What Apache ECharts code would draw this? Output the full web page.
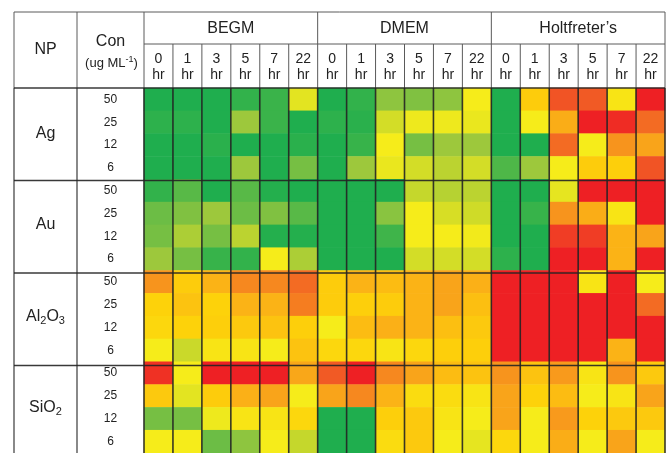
<!DOCTYPE html>
<html>
<head>
<meta charset="utf-8">
<script src="https://cdn.jsdelivr.net/npm/echarts@6/dist/echarts.min.js"></script>
<style>
html, body { margin: 0; padding: 0; background: #fff; }
#chart { width: 668px; height: 453px; }
</style>
</head>
<body>
<div id="chart"></div>
<script>
// ===== 表头 =====
const media = ['BEGM', 'DMEM', 'Holtfreter’s']
const hours = ['0', '1', '3', '5', '7', '22']
const particles = ['Ag', 'Au', 'Al2O3', 'SiO2']
const concs = ['50', '25', '12', '6']

// ===== 毒性评分 0(绿) → 50(黄) → 100(红)，每行：BEGM | DMEM | Holtfreter's =====
const agScores = [
  [0, 0, 0, 7, 10, 45,   0, 7, 27, 24, 27, 50,   0, 62, 91, 90, 53, 100],
  [5, 5, 0, 30, 10, 0,   5, 4, 41, 48, 48, 47,   0, 50, 72, 100, 98, 87],
  [0, 0, 4, 0, 0, 4,     0, 9, 50, 22, 30, 30,   0, 0, 87, 50, 80, 75],
  [0, 0, 0, 30, 0, 22,   0, 30, 47, 41, 36, 41,  14, 30, 50, 62, 61, 91]
]
const auScores = [
  [7, 16, 0, 16, 2, 0,      0, 0, 0, 38, 35, 36,   0, 0, 46, 100, 100, 100],
  [20, 24, 30, 20, 24, 16,  0, 0, 26, 50, 42, 40,  0, 9, 80, 72, 53, 100],
  [22, 33, 22, 36, 2, 2,    0, 0, 11, 50, 50, 49,  0, 0, 95, 95, 70, 75],
  [30, 22, 9, 7, 50, 33,    0, 0, 0, 41, 41, 41,   5, 0, 100, 100, 70, 100]
]
const alScores = [
  [80, 62, 70, 82, 82, 87,  62, 70, 67, 70, 75, 71,  100, 100, 100, 53, 100, 50],
  [60, 65, 60, 70, 70, 84,  62, 61, 62, 70, 75, 66,  100, 100, 100, 100, 100, 87],
  [58, 60, 61, 63, 65, 61,  50, 67, 71, 70, 66, 63,  100, 100, 100, 100, 100, 100],
  [50, 39, 53, 53, 50, 65,  58, 58, 53, 58, 61, 61,  100, 100, 100, 100, 70, 100]
]
const siScores = [
  [97, 50, 100, 100, 100, 74,  90, 100, 82, 75, 67, 65,  80, 65, 78, 53, 80, 63],
  [63, 45, 62, 71, 75, 50,     75, 82, 70, 56, 56, 53,   75, 60, 67, 50, 53, 75],
  [22, 22, 48, 53, 53, 58,     0, 0, 61, 63, 53, 50,     75, 50, 78, 60, 63, 63],
  [50, 50, 20, 27, 50, 38,     0, 0, 56, 63, 50, 46,     58, 50, 72, 50, 75, 50]
]
const scoreColors = ['#1fae4e', '#3ab34a', '#6cbd45', '#9dc83c', '#cfdb28', '#f6ec1a',
  '#fdd20a', '#fbb316', '#f7941d', '#f15a25', '#ee2024']

const allScores = [agScores, auScores, alScores, siScores]

// 类目 key
const colKeys = []
media.forEach(m => hours.forEach(h => colKeys.push(m + '|' + h)))
const rowKeys = []
particles.forEach(p => concs.forEach(c => rowKeys.push(p + '|' + c)))

const cells = []
allScores.forEach((rows, g) => {
  rows.forEach((row, r) => {
    row.forEach((v, c) => cells.push([c, g * concs.length + r, v]))
  })
})

// ===== 表格布局 =====
const L = 14, NPX = 77, GL = 144, GR = 665, TOP = 12, MID = 44, GT = 88
const cellH = 23.125
const GH = cellH * rowKeys.length
const cw = (GR - GL) / colKeys.length

const headC = '#5a5a5a'
const bodyC = 'rgba(35,35,35,0.9)'
const lines = []
const addLine = (x1, y1, x2, y2, stroke, w) => lines.push({
  type: 'line', z: 100, silent: true,
  shape: { x1, y1, x2, y2 }, style: { stroke, lineWidth: w }
})
// 表头线
addLine(L, TOP, GR, TOP, headC, 1)
addLine(GL, MID, GR, MID, headC, 1)
;[L, NPX, GL, GR].forEach(x => addLine(x, TOP, x, GT, headC, 1))
for (let c = 1; c < colKeys.length; c++) {
  const x = GL + c * cw
  addLine(x, c % hours.length === 0 ? TOP : MID, x, GT, headC, 1)
}
// 数据区线
addLine(L, GT, GR, GT, bodyC, 1.6)
;[L, NPX].forEach(x => addLine(x, GT, x, GT + GH, bodyC, 1.2))
for (let c = 0; c <= colKeys.length; c++) {
  const x = GL + c * cw
  addLine(x, GT, x, GT + GH, bodyC, 1.6)
}
for (let g = 1; g < particles.length; g++) {
  const y = GT + g * concs.length * cellH
  addLine(L, y, GR, y, bodyC, 1.6)
}

const font = '"Liberation Sans", Arial, sans-serif'
const texts = [
  { type: 'text', z: 100, style: { x: (L + NPX) / 2, y: 50, text: 'NP', font: '16px ' + font, fill: '#222', align: 'center', verticalAlign: 'middle' } },
  { type: 'text', z: 100, style: { x: (NPX + GL) / 2, y: 42, text: 'Con', font: '16px ' + font, fill: '#222', align: 'center', verticalAlign: 'middle' } },
  { type: 'text', z: 100, style: {
    x: (NPX + GL) / 2 + 1, y: 63, text: '(ug ML{sup|-1})', font: '13px ' + font, fill: '#222',
    align: 'center', verticalAlign: 'middle',
    rich: { sup: { fontSize: 9, fontFamily: font, fill: '#222', padding: [0, 0, 7, 0] } }
  } }
]

const chart = echarts.init(document.getElementById('chart'))
chart.setOption({
  animation: false,
  textStyle: { fontFamily: font },
  grid: { left: GL, top: GT, width: GR - GL, height: GH },
  xAxis: [
    {
      type: 'category', data: colKeys, position: 'top',
      axisLine: { show: false }, axisTick: { show: false }, splitLine: { show: false },
      axisLabel: {
        interval: 0, margin: 5, fontSize: 14, lineHeight: 16, color: '#222',
        formatter: v => v.split('|')[1] + '\nhr'
      }
    },
    {
      type: 'category', data: media, position: 'top', offset: GT - MID,
      axisLine: { show: false }, axisTick: { show: false }, splitLine: { show: false },
      axisLabel: { interval: 0, margin: 7, fontSize: 16, color: '#222' }
    }
  ],
  yAxis: [
    {
      type: 'category', data: rowKeys, inverse: true,
      axisLine: { show: false }, axisTick: { show: false }, splitLine: { show: false },
      axisLabel: {
        interval: 0, margin: GL - (NPX + GL) / 2, align: 'center', fontSize: 12, color: '#222',
        formatter: v => v.split('|')[1]
      }
    },
    {
      type: 'category', data: particles, inverse: true, position: 'left', offset: GL - NPX,
      axisLine: { show: false }, axisTick: { show: false }, splitLine: { show: false },
      axisLabel: {
        interval: 0, margin: NPX - (L + NPX) / 2, align: 'center', fontSize: 16, color: '#222',
        formatter: v => v.replace(/(\d)/g, '{s|$1}'),
        rich: { s: { fontSize: 11, color: '#222', padding: [9, 0, 0, 0] } }
      }
    }
  ],
  visualMap: {
    type: 'continuous', show: false, min: 0, max: 100, dimension: 2, seriesIndex: 0,
    inRange: { color: scoreColors }
  },
  series: [{
    type: 'heatmap',
    data: cells,
    itemStyle: { borderWidth: 0 },
    emphasis: { disabled: true }
  }],
  graphic: [...lines, ...texts]
})
</script>
</body>
</html>
